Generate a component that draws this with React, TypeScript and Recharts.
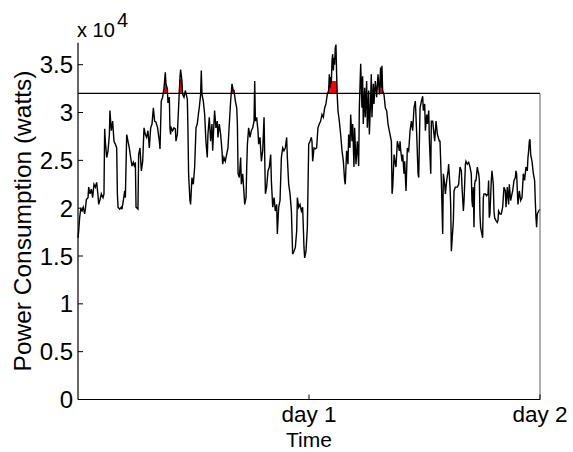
import React from 'react';
import { ComposedChart, Line, Area, XAxis, YAxis, ReferenceLine } from 'recharts';

// time in hours since start (0 .. 48 = two days)
const hours = [
  0.00, 0.07, 0.17, 0.28, 0.42, 0.55, 0.69, 0.76, 0.87, 1.04, 1.11, 1.25, 1.39, 1.52, 1.66, 1.80, 1.94, 2.08, 2.15, 2.29,
  2.42, 2.60, 2.70, 2.77, 2.84, 2.98, 3.12, 3.26, 3.32, 3.39, 3.46, 3.60, 3.74, 3.88, 4.02, 4.09, 4.16, 4.33, 4.50, 4.57,
  4.71, 4.85, 4.92, 5.06, 5.19, 5.33, 5.47, 5.61, 5.75, 5.89, 5.96, 6.03, 6.23, 6.30, 6.44, 6.58, 6.72, 6.86, 7.00, 7.13,
  7.27, 7.41, 7.55, 7.69, 7.83, 7.96,
  8.10, 8.27, 8.45, 8.52, 8.65, 8.79, 8.93, 9.07, 9.14, 9.28, 9.35, 9.49, 9.55, 9.62, 9.69, 9.83, 9.97, 10.11, 10.18, 10.32,
  10.45, 10.59, 10.66, 10.80, 10.87, 11.01, 11.15, 11.29, 11.36, 11.42, 11.49, 11.63, 11.70, 11.84, 11.98, 12.12, 12.26, 12.39, 12.53, 12.60,
  12.74, 12.81, 12.88, 13.02, 13.16, 13.29, 13.43, 13.50, 13.64, 13.78, 13.92, 13.99, 14.19, 14.33, 14.47, 14.54, 14.68, 14.82, 14.96, 15.03,
  15.16, 15.30, 15.44, 15.58, 15.72, 15.86, 16.00, 16.13,
  16.21, 16.35, 16.49, 16.56, 16.63, 16.76, 16.90, 16.97, 17.11, 17.25, 17.32, 17.46, 17.53, 17.60, 17.73, 17.87, 18.01, 18.15, 18.29, 18.36,
  18.43, 18.56, 18.70, 18.77, 18.91, 19.05, 19.19, 19.33, 19.40, 19.47, 19.60, 19.74, 19.88, 20.02, 20.09, 20.23, 20.37, 20.50, 20.64, 20.71,
  20.85, 20.99, 21.13, 21.27, 21.40, 21.54, 21.68, 21.75, 21.89, 22.03, 22.17, 22.30, 22.44, 22.58, 22.72, 22.79, 22.93, 23.07, 23.21, 23.34,
  23.48, 23.55, 23.69, 23.83, 23.97, 24.11, 24.24,
  24.31, 24.38, 24.52, 24.66, 24.79, 24.93, 25.07, 25.21, 25.35, 25.49, 25.63, 25.76, 25.90, 26.04, 26.11, 26.18, 26.25, 26.32, 26.39, 26.46,
  26.53, 26.60, 26.66, 26.73, 26.80, 26.84, 26.87, 26.94, 27.01, 27.15, 27.29, 27.43, 27.57, 27.70, 27.77, 27.91, 28.05, 28.12, 28.26, 28.33,
  28.47, 28.54, 28.67, 28.74, 28.88, 29.02, 29.16, 29.23, 29.37, 29.50, 29.57, 29.64, 29.78, 29.85, 29.99, 30.06, 30.20, 30.27, 30.40, 30.47,
  30.54, 30.68, 30.75, 30.89, 31.03, 31.17, 31.31, 31.44, 31.51, 31.58, 31.65, 31.79, 31.93, 32.07, 32.21, 32.34,
  32.42, 32.56, 32.63, 32.70, 32.84, 32.97, 33.04, 33.18, 33.39, 33.46, 33.53, 33.67, 33.74, 33.87, 33.94, 34.08, 34.22, 34.36, 34.50, 34.64,
  34.77, 34.91, 35.05, 35.12, 35.19, 35.33, 35.40, 35.47, 35.54, 35.68, 35.81, 35.88, 36.02, 36.09, 36.23, 36.30, 36.44, 36.51, 36.65, 36.71,
  36.85, 36.99, 37.06, 37.20, 37.34, 37.55, 37.61, 37.75, 37.82, 37.89, 37.96, 38.10, 38.17, 38.31, 38.45, 38.51, 38.65, 38.72, 38.79, 38.93,
  39.00, 39.07, 39.21, 39.41, 39.55, 39.69, 39.83, 39.90, 40.04, 40.11, 40.25,
  40.31, 40.45, 40.59, 40.73, 40.86, 40.93, 41.00, 41.07, 41.14, 41.21, 41.28, 41.35, 41.49, 41.56, 41.63, 41.70, 41.76, 41.83, 41.90, 41.97,
  42.04, 42.11, 42.18, 42.32, 42.46, 42.60, 42.66, 42.73, 42.80, 42.94, 43.01, 43.15, 43.22, 43.29, 43.43, 43.56, 43.63, 43.70, 43.84, 43.98,
  44.12, 44.26, 44.40, 44.47, 44.60, 44.74, 44.81, 44.95, 45.09, 45.16, 45.30, 45.44, 45.50, 45.57, 45.71, 45.78, 45.85, 45.99, 46.13, 46.27,
  46.40, 46.54, 46.68, 46.75, 46.82, 46.89, 46.96, 47.03, 47.17, 47.31, 47.44, 47.51, 47.58, 47.65, 47.72, 47.86, 48.00,
];

// power consumption in watts
const watts = [
  16900, 17600, 19000, 19900, 19700, 20100, 19400, 19900, 20900, 21100, 22200, 21500, 22000, 21100, 22500, 22200, 22700, 21300, 20400, 20900,
  21500, 21100, 21500, 28300, 27000, 25300, 26000, 27700, 30200, 29100, 28100, 29100, 27000, 26700, 26300, 21500, 20100, 19900, 20100, 19900,
  20800, 21800, 21100, 27700, 27000, 26300, 25300, 24400, 24800, 24300, 24800, 20100, 19900, 25600, 26300, 23900, 24900, 28400, 27700, 27400,
  28100, 26300, 28400, 28800, 30500, 29100,
  29000, 28400, 27000, 26200, 31200, 31600, 32500, 34200, 33000, 32500, 31000, 31600, 28400, 27700, 28400, 28100, 28400, 28300, 27000, 27700,
  30500, 33600, 34500, 33300, 31900, 31600, 32300, 31700, 31400, 28400, 23600, 20800, 20400, 23200, 22500, 24300, 28400, 28800, 30000, 30500,
  31900, 34400, 31900, 31200, 29800, 27000, 25300, 27700, 29500, 27000, 28800, 26000, 30200, 28400, 29100, 27400, 28800, 27700, 26000, 24600,
  25300, 24900, 25600, 26300, 28800, 31200, 33000, 32300,
  32300, 31200, 30500, 28800, 23600, 23200, 25300, 22500, 23600, 21500, 20400, 21100, 24300, 26700, 28400, 27400, 28100, 28400, 29100, 33300,
  29100, 29500, 28100, 26700, 27400, 24900, 26000, 29500, 25300, 21500, 22200, 23900, 24300, 25600, 22900, 20100, 21100, 19700, 20400, 17300,
  20100, 20800, 25300, 26300, 26000, 26300, 27400, 25300, 22500, 21500, 19700, 15200, 15500, 15900, 17600, 21100, 20100, 20400, 19700, 20100,
  15900, 14800, 15500, 18000, 26700, 27000, 27400,
  27000, 24900, 26300, 26200, 26300, 28400, 28800, 29100, 29800, 29500, 30500, 30900, 31900, 32300, 34000, 32600, 33700, 33000, 35400, 36100,
  34400, 35700, 35000, 36800, 37100, 35400, 34000, 31600, 30200, 29100, 27700, 26000, 24900, 22900, 22500, 26000, 24600, 27700, 26300, 29800,
  27000, 28800, 24300, 28400, 24600, 27000, 24400, 30500, 35100, 30500, 33800, 28800, 32600, 29500, 33300, 28400, 32300, 27700, 31200, 34000,
  29500, 33000, 30900, 33300, 31600, 34000, 31900, 34700, 32600, 34900, 32300, 31900, 30500, 30200, 28800, 28100,
  27700, 27000, 21500, 22200, 25600, 24600, 24300, 27000, 26000, 27000, 26000, 24900, 25600, 23600, 24900, 21800, 26300, 26000, 28100, 29100,
  28100, 30500, 31200, 29500, 27700, 23600, 23200, 27000, 30500, 31200, 31700, 30200, 30900, 28100, 29800, 28800, 30200, 27000, 23600, 29100,
  29100, 27700, 27000, 29100, 27700, 27000, 27000, 22900, 20100, 17300, 23600, 22500, 21500, 22900, 23900, 24600, 22200, 20400, 15500, 17600,
  18700, 21800, 22200, 22200, 22500, 24300, 23900, 22200, 19700, 20800, 24600,
  24900, 24600, 24800, 24300, 23600, 20800, 20100, 22200, 18000, 22500, 22900, 22900, 24300, 23900, 23600, 22900, 19400, 18000, 17600, 17300,
  16900, 21100, 21500, 21500, 21300, 21500, 22900, 19000, 19400, 22900, 23900, 22500, 19700, 19000, 18700, 18500, 18700, 19700, 19400, 19400,
  20100, 22200, 21800, 20100, 22200, 20400, 22500, 20800, 21500, 21800, 22900, 23200, 23900, 23600, 20400, 21100, 21800, 20800, 21100, 23600,
  22900, 24300, 23900, 25300, 26000, 27000, 27200, 25600, 24900, 23600, 22900, 20800, 19000, 18000, 19400, 19700, 19900,
];

const threshold = 32000;

// periods where the peak above the threshold is marked in red (hours, cap in watts)
const peakStarts = [8.85, 10.5, 15.8, 26.0, 31.4];
const peakEnds = [9.32, 10.95, 16.4, 27.0, 31.75];
const peakCaps = [33200, 33500, 32500, 33300, 32800];

const yTicks = [0, 5000, 10000, 15000, 20000, 25000, 30000, 35000];
const yTickLabels = ['0', '0.5', '1', '1.5', '2', '2.5', '3', '3.5'];
const xTicks = [24, 48];
const xTickLabels = ['day 1', 'day 2'];

const data = hours.map((t, i) => {
  const v = watts[i];
  let peak = threshold;
  for (let k = 0; k < peakStarts.length; k++) {
    if (t >= peakStarts[k] && t <= peakEnds[k]) {
      peak = Math.min(Math.max(v, threshold), peakCaps[k]);
    }
  }
  return { t, v, peak };
});

const FONT = '"Liberation Sans", Arial, Helvetica, sans-serif';

const XTick = (props: any) => {
  const { x, y, payload } = props;
  const idx = xTicks.indexOf(payload.value);
  return (
    <g>
      <line x1={x} x2={x} y1={y} y2={y - 5} stroke="#000" strokeWidth={1} />
      <text x={x} y={y + 22} textAnchor="middle" fontSize={22.5} fontFamily={FONT} fill="#000">
        {xTickLabels[idx]}
      </text>
    </g>
  );
};

const YTick = (props: any) => {
  const { x, y, payload } = props;
  const idx = yTicks.indexOf(payload.value);
  return (
    <g>
      <line x1={x} x2={x + 5} y1={y} y2={y} stroke="#000" strokeWidth={1} />
      <text x={x - 5} y={y + 8.6} textAnchor="end" fontSize={24} fontFamily={FONT} fill="#000">
        {yTickLabels[idx]}
      </text>
    </g>
  );
};

export default function App() {
  return (
    <div style={{ position: 'absolute', left: 0, top: 0, width: 573, height: 452, background: '#fff' }}>
      <ComposedChart
        width={573}
        height={452}
        data={data}
        margin={{ top: 42.7, right: 33, bottom: 0, left: 0 }}
        style={{ position: 'absolute', left: 0, top: 0 }}
      >
        <XAxis
          type="number"
          dataKey="t"
          domain={[0, 48]}
          ticks={xTicks}
          height={52.5}
          tickSize={0}
          tickMargin={0}
          tickLine={false}
          axisLine={{ stroke: '#000', strokeWidth: 1.2 }}
          tick={<XTick />}
          interval={0}
        />
        <YAxis
          type="number"
          domain={[0, 37300]}
          ticks={yTicks}
          width={78}
          tickSize={0}
          tickMargin={0}
          tickLine={false}
          axisLine={{ stroke: '#000', strokeWidth: 1.2 }}
          tick={<YTick />}
          interval={0}
        />
        <Area
          type="linear"
          dataKey="peak"
          baseValue={threshold}
          fill="#ff0000"
          fillOpacity={1}
          stroke="none"
          isAnimationActive={false}
          dot={false}
          activeDot={false}
        />
        <Line
          type="linear"
          dataKey="v"
          stroke="#000"
          strokeWidth={1.4}
          dot={false}
          activeDot={false}
          isAnimationActive={false}
        />
        <ReferenceLine y={threshold} stroke="#000" strokeWidth={1.3} />
        <ReferenceLine
          segment={[{ x: 48, y: 0 }, { x: 48, y: threshold }]}
          stroke="#777"
          strokeWidth={1.2}
        />
      </ComposedChart>
      <svg
        width={573}
        height={452}
        style={{ position: 'absolute', left: 0, top: 0, pointerEvents: 'none' }}
      >
        <text x={77} y={37} fontSize={20} fontFamily={FONT} fill="#000">x 10</text>
        <text x={117} y={27} fontSize={20} fontFamily={FONT} fill="#000">4</text>
        <text
          transform="translate(31,221) rotate(-90)"
          textAnchor="middle"
          fontSize={24.5}
          fontFamily={FONT}
          fill="#000"
        >
          Power Consumption (watts)
        </text>
        <text x={309} y={446.5} textAnchor="middle" fontSize={21} fontFamily={FONT} fill="#000">Time</text>
      </svg>
    </div>
  );
}
